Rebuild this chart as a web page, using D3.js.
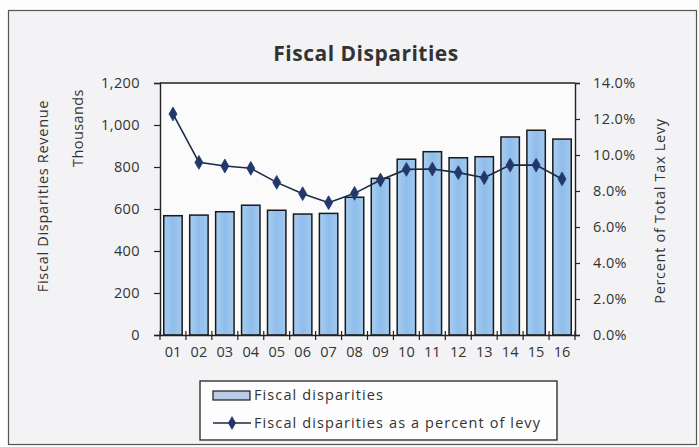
<!DOCTYPE html>
<html><head><meta charset="utf-8">
<script src="https://cdn.jsdelivr.net/npm/d3@7/dist/d3.min.js"></script>
<style>
html,body{margin:0;padding:0;background:#fff;}
svg text{font-family:"Open Sans",Lato,sans-serif;fill:#333;letter-spacing:0.4px;}
</style></head>
<body>
<svg id="c" width="699" height="447"></svg>
<script>
const categories = ["01","02","03","04","05","06","07","08","09","10","11","12","13","14","15","16"];
const revenue = [568,571,587,618,594,576,579,656,746,837,873,844,849,943,975,933];
const percentOfLevy = [12.28,9.59,9.39,9.26,8.48,7.85,7.35,7.87,8.61,9.2,9.22,9.02,8.74,9.44,9.44,8.67];
const leftTicks = [0,200,400,600,800,1000,1200];
const rightTicks = [0,2,4,6,8,10,12,14];
const seriesNames = ["Fiscal disparities","Fiscal disparities as a percent of levy"];

const svg = d3.select("#c");
const W=699,H=447;
const m = {l:160, r:575, t:83, b:335};
const FF = "'Open Sans',Lato,sans-serif";

const defs = svg.append("defs");
const g1 = defs.append("linearGradient").attr("id","barg").attr("x1","0").attr("x2","1").attr("y1","0").attr("y2","0");
g1.append("stop").attr("offset","0").attr("stop-color","#a9cdf0");
g1.append("stop").attr("offset","0.5").attr("stop-color","#8fbdeb");
g1.append("stop").attr("offset","1").attr("stop-color","#a3c9ef");

// outer background + border
svg.append("rect").attr("x",0).attr("y",0).attr("width",W).attr("height",H).attr("fill","#fdfdfd");
svg.append("rect").attr("x",8.5).attr("y",10.5).attr("width",688).attr("height",434)
  .attr("fill","#f3f3f6").attr("stroke","#555").attr("stroke-width",1.2);

const x = d3.scaleBand().domain(categories).range([m.l,m.r]).paddingInner(0.29).paddingOuter(0.145);
const y = d3.scaleLinear().domain([0,1200]).range([m.b,m.t]);
const y2 = d3.scaleLinear().domain([0,14]).range([m.b,m.t]);

// plot area
svg.append("rect").attr("x",m.l).attr("y",m.t).attr("width",m.r-m.l).attr("height",m.b-m.t).attr("fill","#fbfbfc");
svg.append("line").attr("x1",m.l).attr("x2",m.r).attr("y1",m.t).attr("y2",m.t).attr("stroke","#222").attr("stroke-width",1.3);

// bars
svg.append("g").selectAll("rect").data(categories).join("rect")
  .attr("x",d=>x(d)).attr("width",x.bandwidth())
  .attr("y",(d,i)=>y(revenue[i])).attr("height",(d,i)=>m.b-y(revenue[i]))
  .attr("fill","url(#barg)").attr("stroke","#1a1a1a").attr("stroke-width",1.5);

// axes
const ax = svg.append("g").attr("transform",`translate(${m.l},0)`)
  .call(d3.axisLeft(y).tickValues(leftTicks).tickFormat(d3.format(",")).tickSize(6).tickPadding(14));
const ay2 = svg.append("g").attr("transform",`translate(${m.r},0)`)
  .call(d3.axisRight(y2).tickValues(rightTicks).tickFormat(d=>d.toFixed(1)+"%").tickSize(5).tickPadding(13));
[ax,ay2].forEach(a=>{
  a.select(".domain").attr("stroke","#222").attr("stroke-width",1.4);
  a.selectAll(".tick line").attr("stroke","#222").attr("stroke-width",1.2);
  a.selectAll("text").attr("font-size",14.5).attr("fill","#333").style("font-family",FF);
});
const axb = svg.append("g").attr("transform",`translate(0,${m.b})`)
  .call(d3.axisBottom(x).tickSize(0).tickPadding(12));
axb.select(".domain").attr("stroke","#222").attr("stroke-width",1.4);
axb.selectAll("text").attr("font-size",14.5).attr("fill","#333").style("font-family",FF).style("letter-spacing","0px");
// category boundary ticks
const bounds = d3.range(categories.length+1).map(i=> i<categories.length ? x(categories[i]) - x.step()*x.paddingInner()/2 : m.r);
svg.append("g").selectAll("line").data(bounds).join("line")
  .attr("x1",d=>d).attr("x2",d=>d).attr("y1",m.b-4).attr("y2",m.b+5)
  .attr("stroke","#222").attr("stroke-width",1.2);

// line series
const cx = d=>x(d)+x.bandwidth()/2;
const line = d3.line().x((d,i)=>cx(categories[i])).y(d=>y2(d));
svg.append("path").datum(percentOfLevy).attr("d",line).attr("fill","none").attr("stroke","#1c2a44").attr("stroke-width",1.6);
const diamond = d3.symbol().type(d3.symbolDiamond).size(55);
svg.append("g").selectAll("path").data(percentOfLevy).join("path")
  .attr("d",diamond).attr("transform",(d,i)=>`translate(${cx(categories[i])},${y2(d)})`)
  .attr("fill","#23386a").attr("stroke","#23386a").attr("stroke-width",0.8);

// title
svg.append("text").attr("x",366).attr("y",61).attr("text-anchor","middle")
  .attr("font-size",21).attr("font-weight","bold").attr("fill","#222").style("letter-spacing","0.5px").text("Fiscal Disparities");

// axis titles
svg.append("text").attr("transform","translate(48,196) rotate(-90)").attr("text-anchor","middle")
  .attr("font-size",14.5).attr("fill","#222").style("letter-spacing","0.7px").text("Fiscal Disparities Revenue");
svg.append("text").attr("transform","translate(83,128) rotate(-90)").attr("text-anchor","middle")
  .attr("font-size",14.5).attr("fill","#333").text("Thousands");
svg.append("text").attr("transform","translate(665,211) rotate(-90)").attr("text-anchor","middle")
  .attr("font-size",14.5).attr("fill","#222").style("letter-spacing","0.7px").text("Percent of Total Tax Levy");

// legend
const lg = svg.append("g");
lg.append("rect").attr("x",200).attr("y",381).attr("width",357).attr("height",59)
  .attr("fill","#fdfdfd").attr("stroke","#222").attr("stroke-width",1.3);
lg.append("rect").attr("x",213).attr("y",391).attr("width",37).attr("height",9)
  .attr("fill","#b9cde6").attr("stroke","#1a1a1a").attr("stroke-width",1.2);
lg.append("text").attr("x",254).attr("y",400).attr("font-size",14.5).attr("fill","#222").style("letter-spacing","1.1px").text(seriesNames[0]);
lg.append("line").attr("x1",213).attr("x2",251).attr("y1",423).attr("y2",423).attr("stroke","#1c2a44").attr("stroke-width",1.6);
lg.append("path").attr("d",diamond).attr("transform","translate(232,423)").attr("fill","#23386a");
lg.append("text").attr("x",254).attr("y",428).attr("font-size",14.5).attr("fill","#222").style("letter-spacing","1.1px").text(seriesNames[1]);
</script>
</body></html>
